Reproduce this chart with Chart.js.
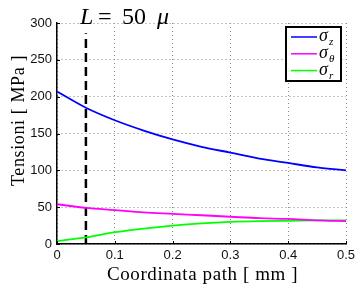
<!DOCTYPE html>
<html>
<head>
<meta charset="utf-8">
<script src="https://cdn.jsdelivr.net/npm/chart.js@4/dist/chart.umd.min.js"></script>
<style>
  html, body { margin: 0; padding: 0; background: #fff; }
  #wrap { width: 357px; height: 284px; position: relative; }
</style>
</head>
<body>
<div id="wrap"><canvas id="chart"></canvas></div>
<script>
// data
const pathMm = [0, 0.05, 0.1, 0.15, 0.2, 0.25, 0.3, 0.35, 0.4, 0.45, 0.5];
const sigmaZ = [207, 185, 168, 154, 142, 132, 124, 116, 110, 104, 100];
const sigmaTheta = [54, 49, 46, 43, 41, 39, 37, 35, 34, 32, 31];
const sigmaR = [4, 9, 16, 21, 25, 28, 30, 31, 31.5, 32, 32];
const cutX = 0.05;
const cutY = [0, 286];
const xTicks = [0, 0.1, 0.2, 0.3, 0.4, 0.5];
const yTicks = [0, 50, 100, 150, 200, 250, 300];

const legendItems = [
  { color: '#0000ff', sub: 'z' },
  { color: '#ff00ff', sub: 'θ' },
  { color: '#00ff00', sub: 'r' },
];

const pts = (ys) => pathMm.map((x, i) => ({ x, y: ys[i] }));

// text spaced to match the LaTeX widths
function spacedText(ctx, text, x, y, width) {
  ctx.letterSpacing = '0px';
  const w = ctx.measureText(text).width;
  const extra = (width - w) / text.length;
  ctx.letterSpacing = extra.toFixed(2) + 'px';
  ctx.fillText(text, x, y);
  ctx.letterSpacing = '0px';
}

// custom drawing: axis titles, annotation, legend box
const extras = {
  id: 'extras',
  afterDraw(chart) {
    const ctx = chart.ctx;
    const area = chart.chartArea;
    ctx.save();
    ctx.fillStyle = '#000';
    ctx.textAlign = 'left';
    ctx.textBaseline = 'alphabetic';

    // x title
    ctx.font = '19px "Liberation Serif"';
    spacedText(ctx, 'Coordinata path [ mm ]', 107, 280, 191);

    // y title
    ctx.save();
    ctx.translate(24, 186);
    ctx.rotate(-Math.PI / 2);
    ctx.font = '18px "Liberation Serif"';
    spacedText(ctx, 'Tensioni [ MPa ]', 0, 0, 131);
    ctx.restore();

    // annotation L = 50 μ
    ctx.font = 'italic 24px "Liberation Serif"';
    ctx.fillText('L', 80, 24);
    ctx.font = '24px "Liberation Serif"';
    ctx.fillText('=', 98, 24);
    ctx.fillText('50', 122, 24);
    ctx.font = 'italic 24px "Liberation Serif"';
    ctx.fillText('μ', 157, 24);

    // legend box
    const bx = 286, by = 27, bw = 55, bh = 54;
    ctx.fillStyle = '#fff';
    ctx.fillRect(bx, by, bw, bh);
    ctx.lineWidth = 2;
    ctx.strokeStyle = '#000';
    ctx.strokeRect(bx, by, bw, bh);
    legendItems.forEach((item, i) => {
      const y = by + 10 + i * 16.8;
      ctx.strokeStyle = item.color;
      ctx.lineWidth = 1.5;
      ctx.beginPath();
      ctx.moveTo(bx + 5, y);
      ctx.lineTo(bx + 31, y);
      ctx.stroke();
      ctx.fillStyle = '#000';
      ctx.font = 'italic 18px "Liberation Serif"';
      ctx.fillText('σ', bx + 33, y + 4);
      ctx.font = 'italic 11px "Liberation Serif"';
      ctx.fillText(item.sub, bx + 43, y + 8);
    });

    // inward ticks (matlab style)
    ctx.strokeStyle = '#000';
    ctx.lineWidth = 1;
    const xs = chart.scales.x, ys = chart.scales.y;
    xTicks.forEach(v => {
      const px = Math.round(xs.getPixelForValue(v)) + 0.5;
      ctx.beginPath();
      ctx.moveTo(px, area.bottom);
      ctx.lineTo(px, area.bottom - 3);
      ctx.stroke();
    });
    yTicks.forEach(v => {
      const py = Math.round(ys.getPixelForValue(v)) + 0.5;
      ctx.beginPath();
      ctx.moveTo(area.left, py);
      ctx.lineTo(area.left + 3, py);
      ctx.stroke();
    });
    ctx.restore();
  }
};

const gridStyle = {
  color: '#888',
  lineWidth: 1,
  drawTicks: false,
};

new Chart(document.getElementById('chart'), {
  type: 'line',
  data: {
    datasets: [
      { label: 'sz', data: pts(sigmaZ), borderColor: '#0000ff', borderWidth: 1.8, pointRadius: 0, cubicInterpolationMode: 'monotone' },
      { label: 'st', data: pts(sigmaTheta), borderColor: '#ff00ff', borderWidth: 1.8, pointRadius: 0, cubicInterpolationMode: 'monotone' },
      { label: 'sr', data: pts(sigmaR), borderColor: '#00ff00', borderWidth: 1.8, pointRadius: 0, cubicInterpolationMode: 'monotone' },
      { label: 'L', data: cutY.map(y => ({ x: cutX, y })), borderColor: '#000', borderWidth: 2.5, borderDash: [9, 5], pointRadius: 0 },
    ],
  },
  options: {
    responsive: true,
    maintainAspectRatio: false,
    animation: false,
    layout: { padding: { left: 0, right: 11, top: 23, bottom: 0 } },
    plugins: { legend: { display: false }, tooltip: { enabled: false } },
    scales: {
      x: {
        type: 'linear',
        min: 0,
        max: 0.5,
        afterBuildTicks: (s) => { s.ticks = xTicks.map(v => ({ value: v })); },
        afterFit: (s) => { s.height = 40; s.paddingLeft = 0; s.paddingRight = 0; },
        grid: gridStyle,
        border: { display: true, color: '#000', width: 1.5, dash: [1, 3] },
        ticks: {
          padding: 4,
          color: '#111',
          font: { family: '"Liberation Sans"', size: 13 },
          maxRotation: 0,
          callback: v => String(v),
        },
      },
      y: {
        min: 0,
        max: 300,
        afterBuildTicks: (s) => { s.ticks = yTicks.map(v => ({ value: v })); },
        afterFit: (s) => { s.width = 57; s.paddingTop = 0; s.paddingBottom = 0; },
        grid: gridStyle,
        border: { display: true, color: '#000', width: 1.5, dash: [1, 3] },
        ticks: {
          padding: 5,
          color: '#111',
          font: { family: '"Liberation Sans"', size: 13 },
        },
      },
    },
  },
  plugins: [extras],
});
</script>
</body>
</html>
